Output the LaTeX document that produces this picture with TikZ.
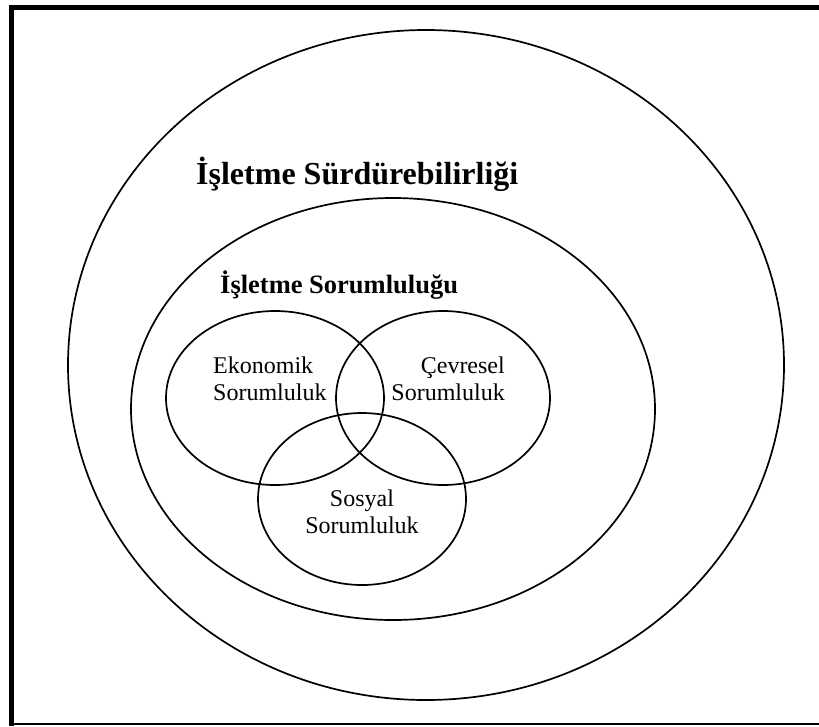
\documentclass[tikz,border=0pt]{standalone}
\usepackage{fontspec}
\setmainfont{Liberation Serif}
\begin{document}
\begin{tikzpicture}[x=1pt,y=-1pt,
  ring/.style={draw=black,line width=1.7pt},
  bigtitle/.style={font=\bfseries\fontsize{32}{36}\selectfont,anchor=base west,inner sep=0pt},
  midtitle/.style={font=\bfseries\fontsize{26.5}{32}\selectfont,anchor=base west,inner sep=0pt},
  lbl/.style={font=\fontsize{24}{26.5}\selectfont,inner sep=0pt}]
\useasboundingbox (0,0) rectangle (819,726);
\fill[white] (0,0) rectangle (819,726);
% frame
\draw[line width=5pt] (11.5,726) -- (11.5,7) -- (819,7);
\draw[line width=1.5pt] (9,724) -- (819,724);
% ellipses
\draw[ring] (426,365) ellipse [x radius=358, y radius=335];
\draw[ring] (393,409) ellipse [x radius=262, y radius=211];
\draw[ring] (275,398) ellipse [x radius=109, y radius=87];
\draw[ring] (443,398) ellipse [x radius=107, y radius=87];
\draw[ring] (362,499) ellipse [x radius=104, y radius=86];
% texts
\node[bigtitle] (t1) at (196,184) {İşletme Sürdürebilirliği};
\node[midtitle] (t2) at (220,293) {İşletme Sorumluluğu};
\node[lbl,anchor=base west,align=left] (eko) at (213,400) {Ekonomik\\Sorumluluk};
\node[lbl,anchor=base east,align=right] (cev) at (505,400) {Çevresel\\Sorumluluk};
\node[lbl,anchor=base,align=center] (sos) at (362,533) {Sosyal\\Sorumluluk};
\end{tikzpicture}
\end{document}
